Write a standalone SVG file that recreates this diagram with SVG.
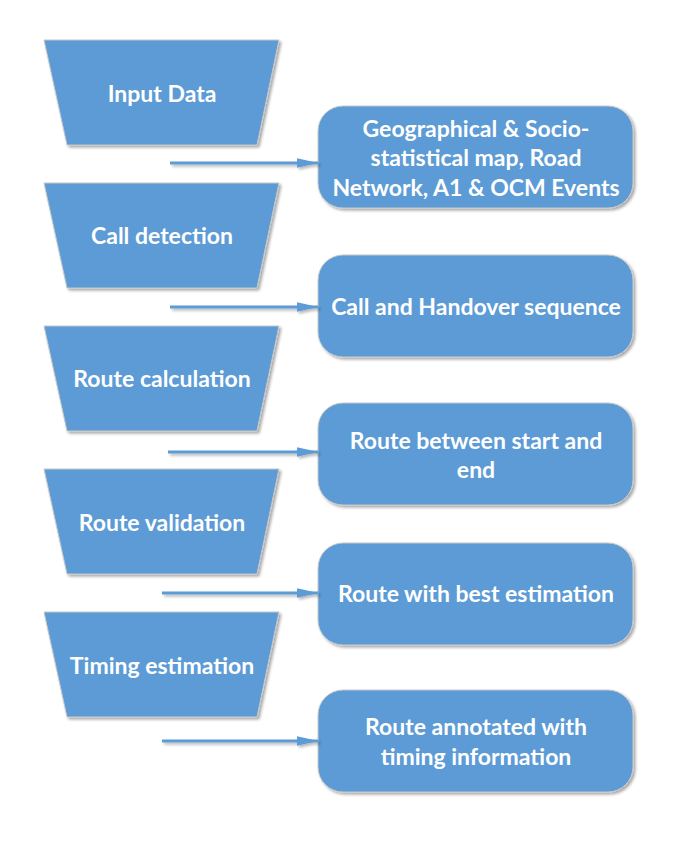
<svg xmlns="http://www.w3.org/2000/svg" width="679" height="842" viewBox="0 0 679 842">
<defs>
<filter id="sh" x="-10%" y="-10%" width="130%" height="130%">
<feGaussianBlur in="SourceAlpha" stdDeviation="1.5"/>
<feOffset dx="1.5" dy="2" result="b"/>
<feComponentTransfer><feFuncA type="linear" slope="0.35"/></feComponentTransfer>
<feMerge><feMergeNode/><feMergeNode in="SourceGraphic"/></feMerge>
</filter>
<filter id="shl" filterUnits="userSpaceOnUse" x="0" y="0" width="679" height="842">
<feGaussianBlur in="SourceAlpha" stdDeviation="1.5"/>
<feOffset dx="1.5" dy="2" result="b"/>
<feComponentTransfer><feFuncA type="linear" slope="0.3"/></feComponentTransfer>
<feMerge><feMergeNode/><feMergeNode in="SourceGraphic"/></feMerge>
</filter>
<marker id="ah" markerWidth="7" markerHeight="3.2" refX="7" refY="1.6" orient="auto" markerUnits="strokeWidth">
<path d="M0,0 L7,1.6 L0,3.2 z" fill="#5B9BD5"/>
</marker>
</defs>
<style>
.shape{fill:#5B9BD5;stroke:#c8c8c8;stroke-width:1;filter:url(#sh)}
.t{font-family:Lato,"Open Sans",sans-serif;font-weight:bold;font-size:23px;fill:#fff;text-anchor:middle;dominant-baseline:central}
.c{stroke:#5B9BD5;stroke-width:3;fill:none;marker-end:url(#ah)}
</style>
<rect width="679" height="842" fill="#fff"/>
<g id="n1"><path class="shape" d="M44,40 L279,40 L257,145 L67,145 Z"/><text class="t" x="162" y="93">Input Data</text></g>
<g id="n2"><path class="shape" d="M44,183 L279,183 L257,288 L67,288 Z"/><text class="t" x="162" y="235">Call detection</text></g>
<g id="n3"><path class="shape" d="M44,326 L279,326 L257,431 L67,431 Z"/><text class="t" x="162" y="378">Route calculation</text></g>
<g id="n4"><path class="shape" d="M44,469 L279,469 L257,574 L67,574 Z"/><text class="t" x="162" y="522">Route validation</text></g>
<g id="n5"><path class="shape" d="M44,612 L279,612 L257,717 L67,717 Z"/><text class="t" x="162" y="665">Timing estimation</text></g>
<g id="r1"><rect class="shape" x="318" y="106" width="315" height="102" rx="25"/><text class="t" x="476" y="128">Geographical &amp; Socio-</text><text class="t" x="476" y="157">statistical map, Road</text><text class="t" x="476" y="187">Network, A1 &amp; OCM Events</text></g>
<g id="r2"><rect class="shape" x="318" y="255" width="315" height="102" rx="25"/><text class="t" x="476" y="306">Call and Handover sequence</text></g>
<g id="r3"><rect class="shape" x="318" y="403" width="315" height="102" rx="25"/><text class="t" x="476" y="440">Route between start and</text><text class="t" x="476" y="469">end</text></g>
<g id="r4"><rect class="shape" x="318" y="543" width="315" height="102" rx="25"/><text class="t" x="476" y="593">Route with best estimation</text></g>
<g id="r5"><rect class="shape" x="318" y="690" width="315" height="102" rx="25"/><text class="t" x="476" y="726">Route annotated with</text><text class="t" x="476" y="756">timing information</text></g>
<g id="connectors" filter="url(#shl)">
<line class="c" x1="170" y1="163" x2="318" y2="163"/>
<line class="c" x1="170" y1="307" x2="318" y2="307"/>
<line class="c" x1="168" y1="452" x2="318" y2="452"/>
<line class="c" x1="162" y1="593" x2="318" y2="593"/>
<line class="c" x1="162" y1="741" x2="318" y2="741"/>
</g>
</svg>
